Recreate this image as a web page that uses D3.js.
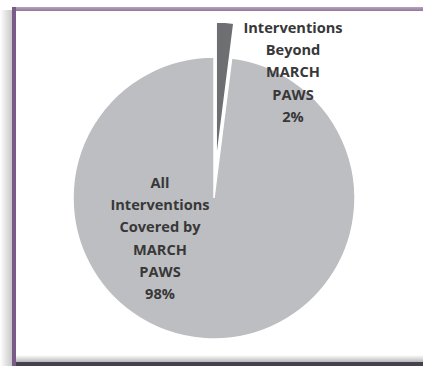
<!DOCTYPE html>
<html><head><meta charset="utf-8">
<script src="https://cdn.jsdelivr.net/npm/d3@7"></script>
<style>html,body{margin:0;padding:0;background:#fff;overflow:hidden}</style>
</head><body>
<svg id="c" width="423" height="366"></svg>
<script>
const categories = ["Interventions Beyond MARCH PAWS", "All Interventions Covered by MARCH PAWS"];
const values = [2, 98];
const labels = [
  ["Interventions", "Beyond", "MARCH", "PAWS", "2%"],
  ["All", "Interventions", "Covered by", "MARCH", "PAWS", "98%"]
];
const colors = ["#6e6f72", "#bdbec1"];
const explode = [35, 0];

const svg = d3.select("#c");
const defs = svg.append("defs");
const lg = defs.append("linearGradient").attr("id", "lsh").attr("x1", 0).attr("x2", 1).attr("y1", 0).attr("y2", 0);
lg.append("stop").attr("offset", 0).attr("stop-color", "#ffffff");
lg.append("stop").attr("offset", 1).attr("stop-color", "#c8c8c8");
const bg = defs.append("linearGradient").attr("id", "bsh").attr("x1", 0).attr("x2", 0).attr("y1", 0).attr("y2", 1);
bg.append("stop").attr("offset", 0).attr("stop-color", "#ffffff");
bg.append("stop").attr("offset", 1).attr("stop-color", "#b8b8b8");
const tg = defs.append("linearGradient").attr("id", "top").attr("x1", 0).attr("x2", 0).attr("y1", 0).attr("y2", 1);
tg.append("stop").attr("offset", 0).attr("stop-color", "#b8a2c0");
tg.append("stop").attr("offset", 1).attr("stop-color", "#93779e");

// frame
svg.append("rect").attr("x", 0).attr("y", 10).attr("width", 12).attr("height", 356).attr("fill", "url(#lsh)");
svg.append("rect").attr("x", 16).attr("y", 355).attr("width", 407).attr("height", 7).attr("fill", "url(#bsh)");
svg.append("rect").attr("x", 16).attr("y", 362).attr("width", 407).attr("height", 4).attr("fill", "#47414d");
svg.append("rect").attr("x", 12).attr("y", 7).attr("width", 411).attr("height", 4).attr("fill", "url(#top)");
svg.append("rect").attr("x", 12).attr("y", 7).attr("width", 4).attr("height", 359).attr("fill", "#7a5a87");

const cx = 214, cy = 198, R = 141;
const data = categories.map((c, i) => ({c, v: values[i], i}));
const pie = d3.pie().value(d => d.v).sort(null);
const arc = d3.arc().innerRadius(0).outerRadius(R);
const arcs = pie(data);
const g = svg.append("g").attr("transform", `translate(${cx},${cy})`);
g.selectAll("path").data(arcs).join("path")
  .attr("d", arc)
  .attr("fill", d => colors[d.data.i])
  .attr("stroke", "#fff").attr("stroke-width", 1.5)
  .attr("transform", d => {
    const a = (d.startAngle + d.endAngle) / 2, e = explode[d.data.i];
    return `translate(${e * Math.sin(a)},${-e * Math.cos(a)})`;
  });

const labelPos = [[293, 33], [160, 188]];
labels.forEach((lines, i) => {
  const t = svg.append("text")
    .attr("text-anchor", "middle")
    .attr("font-family", "'Open Sans', sans-serif")
    .attr("font-weight", 700)
    .attr("font-size", 14.6)
    .attr("fill", "#383839");
  lines.forEach((l, j) => {
    t.append("tspan").attr("x", labelPos[i][0]).attr("y", labelPos[i][1] + j * 22.2).text(l);
  });
});
</script>
</body></html>
